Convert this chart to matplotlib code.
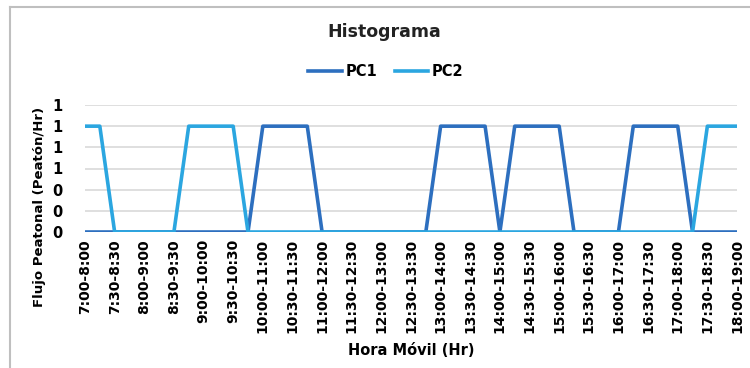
import matplotlib
matplotlib.use("Agg")
import matplotlib.pyplot as plt
from matplotlib.lines import Line2D
from matplotlib.ticker import FormatStrFormatter

plt.rcParams['font.family'] = ['DejaVu Sans']

# 15-minute moving-hour windows from 7:00-8:00 to 18:00-19:00
starts = [f"{7 + i // 4}:{(i % 4) * 15:02d}" for i in range(45)]
categories = [f"{s}-{int(s.split(':')[0]) + 1}:{s.split(':')[1]}" for s in starts]

pc1 = [0]*12 + [1]*4 + [0]*8 + [1]*4 + [0] + [1]*4 + [0]*4 + [1]*4 + [0]*4
pc2 = [1]*2 + [0]*5 + [1]*4 + [0]*31 + [1]*3

c_pc1 = "#2D6FBF"
c_pc2 = "#2BA6E0"

fig = plt.figure(figsize=(7.5, 3.68), dpi=100)
ax = fig.add_axes([85/750, 136/368, 652/750, 127/368])

x = list(range(len(categories)))
ax.plot(x, pc1, color=c_pc1, lw=2.6, label="PC1", solid_joinstyle='round')
ax.plot(x, pc2, color=c_pc2, lw=2.6, label="PC2", solid_joinstyle='round')

ax.set_xlim(0, len(categories) - 1)
ax.set_ylim(0, 1.2)
ax.set_yticks([0, 0.2, 0.4, 0.6, 0.8, 1.0, 1.2])
ax.yaxis.set_major_formatter(FormatStrFormatter('%.0f'))
ax.set_xticks(x[::2])
ax.set_xticklabels(categories[::2], rotation=90, fontsize=10, fontweight='bold')
for lab in ax.get_yticklabels():
    lab.set_fontsize(10.5)
    lab.set_fontweight('bold')
ax.tick_params(axis='both', length=0, pad=5)
ax.tick_params(axis='y', pad=16)
ax.grid(axis='y', color='#D9D9D9', lw=1.2)
ax.set_axisbelow(True)
for s in ax.spines.values():
    s.set_visible(False)

ax.set_ylabel("Flujo Peatonal (Peatón/Hr)", fontsize=9.5, fontweight='bold')
ax.yaxis.set_label_coords((46 - 85) / 652, (232 - 207) / 127)
ax.set_xlabel("Hora Móvil (Hr)", fontsize=10.5, fontweight='bold', labelpad=7)

fig.text(384/750, 1 - 32/368, "Histograma", ha='center', va='center',
         fontsize=12.5, fontweight='bold', color='#222222')
handles = [Line2D([0], [0], color=c_pc1, lw=2.6), Line2D([0], [0], color=c_pc2, lw=2.6)]
fig.legend(handles, ["PC1", "PC2"], loc='center', bbox_to_anchor=(386/750, 1 - 72/368),
           ncol=2, frameon=False, prop={'weight': 'bold', 'size': 10.5},
           handlelength=2.3, handletextpad=0.25, columnspacing=1.2)

# chart border (cropped at right and bottom)
fig.add_artist(Line2D([10/750, 10/750], [0, 1 - 7/368], transform=fig.transFigure, color='#BFBFBF', lw=1.5))
fig.add_artist(Line2D([10/750, 1], [1 - 7/368, 1 - 7/368], transform=fig.transFigure, color='#BFBFBF', lw=1.5))

fig.savefig("out.png", dpi=100)
